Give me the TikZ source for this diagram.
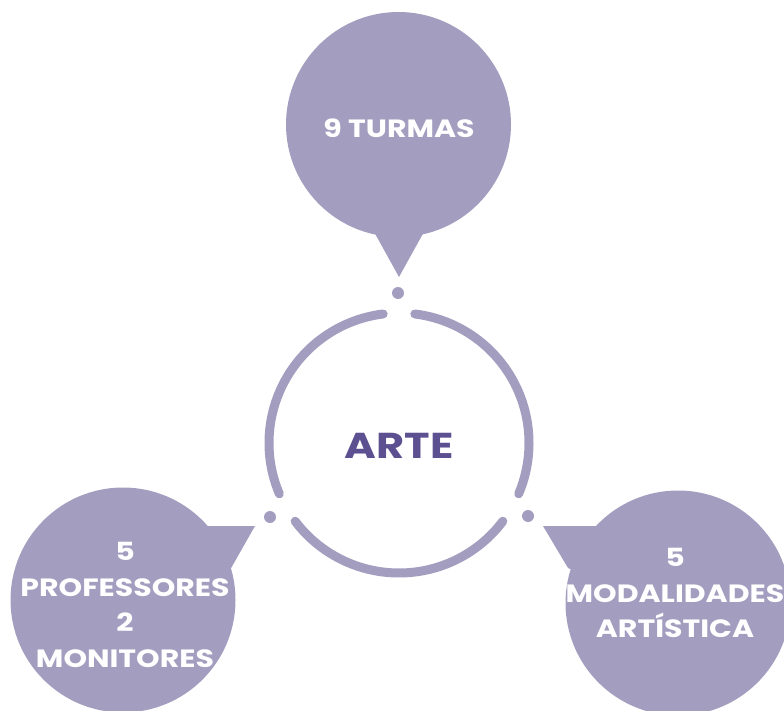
\documentclass[tikz,border=0pt]{standalone}
\usepackage{fontspec}
\setmainfont{Poppins}[FakeStretch=1.2]
\definecolor{bub}{HTML}{A39EBF}
\definecolor{dark}{HTML}{5C5090}
\tikzset{
  bubble/.style={circle,fill=bub,minimum size=225pt,inner sep=0pt},
  btext/.style={text=white,align=center,font=\fontsize{25}{35.5}\selectfont\bfseries},
  ring/.style={draw=bub,line width=9pt,line cap=round},
  dot/.style={circle,fill=bub,minimum size=12pt,inner sep=0pt},
}
\begin{document}
\begin{tikzpicture}[x=1pt,y=-1pt]
\useasboundingbox (0,0) rectangle (784,711);
% central ring
\node (c) at (399,443) {};
\draw[ring] (c.center) ++(-97:130) arc[start angle=-97,end angle=-203,radius=130];
\draw[ring] (c.center) ++(-217:130) arc[start angle=-217,end angle=-323,radius=130];
\draw[ring] (c.center) ++(-337:130) arc[start angle=-337,end angle=-443,radius=130];
\node[text=dark,font=\fontsize{36}{36}\selectfont\bfseries] (arte) at (399,446) {ARTE};
% dots
\node[dot] (d1) at (398,293) {};
\node[dot] (d2) at (270,517) {};
\node[dot] (d3) at (528,516) {};
% top bubble
\node[bubble] (b1) at (398.5,124.5) {};
\coordinate (t1) at (399,277);
\fill[bub] (t1) -- (373,230) -- (425,230) -- cycle;
\node[btext] (l1) at (399,128) {9 TURMAS};
% left bubble
\node[bubble] (b2) at (123,600) {};
\coordinate (t2) at (255,526);
\fill[bub] (t2) -- (160,526) -- (160,600) -- (230,570) -- cycle;
\node[btext] (l2) at (125,605) {5\\PROFESSORES\\2\\MONITORES};
% right bubble
\node[bubble] (b3) at (678,603) {};
\coordinate (t3) at (543,526);
\fill[bub] (t3) -- (640,526) -- (640,600) -- (568,568) -- cycle;
\node[btext] (l3) at (675,593) {5\\MODALIDADES\\ARTÍSTICA};
\end{tikzpicture}
\end{document}
